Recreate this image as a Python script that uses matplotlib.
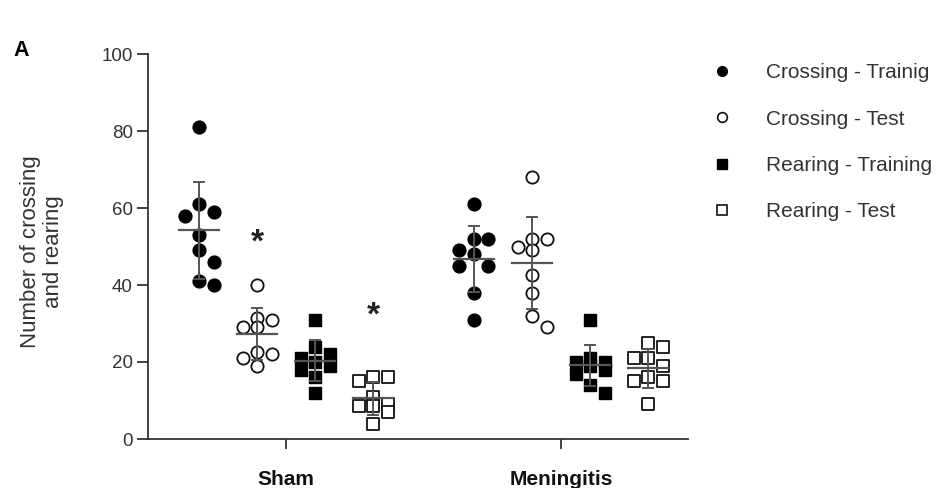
import numpy as np
import matplotlib
matplotlib.use("Agg")
import matplotlib.pyplot as plt
from matplotlib.lines import Line2D

plt.rcParams['font.family'] = ['Liberation Sans', 'DejaVu Sans']

groups = ["Sham", "Meningitis"]
series_names = ["Crossing - Trainig", "Crossing - Test", "Rearing - Training", "Rearing - Test"]

sham_cross_train = [81, 61, 59, 58, 53, 49, 46, 41, 40]
sham_cross_test = [40, 31.5, 31, 29, 29, 22.5, 22, 21, 19]
sham_rear_train = [31, 24, 22, 21, 20, 19, 18, 16, 12]
sham_rear_test = [16, 16, 15, 11, 9, 8.5, 8.5, 7, 4]

men_cross_train = [61, 52, 52, 49, 48, 45, 45, 38, 31]
men_cross_test = [68, 52, 52, 50, 49, 42.5, 38, 32, 29]
men_rear_train = [31, 21, 20, 20, 19, 18, 17, 14, 12]
men_rear_test = [25, 24, 21, 21, 19, 16, 15, 15, 9]

data = [
    [sham_cross_train, sham_cross_test, sham_rear_train, sham_rear_test],
    [men_cross_train, men_cross_test, men_rear_train, men_rear_test],
]
star_series = [(0, 1, 51), (0, 3, 32)]  # (group, series, y of asterisk)

# styles
markers = ['o', 'o', 's', 's']
filled = [True, False, True, False]

W, H = 947, 488
fig = plt.figure(figsize=(W / 100, H / 100), dpi=100)
ax = fig.add_axes([148 / W, 1 - 439 / H, (688 - 148) / W, (439 - 54) / H])

px_per_x = 275.0
px_per_y = 3.85
col_step = 58 / px_per_x
x_left = -138 / px_per_x
x_right = 402 / px_per_x
ax.set_xlim(x_left, x_right)
ax.set_ylim(0, 100)

diam_px = 12.5
step_px = 14.5


def swarm(vals):
    order = np.argsort(vals)[::-1]
    placed = []
    offs = np.zeros(len(vals))
    cands = [0, 1, -1]
    for i in order:
        yv = vals[i] * px_per_y
        best, bestd = 0, -1
        for c in cands:
            xo = c * step_px
            d = min([np.hypot(xo - px, yv - py) for px, py in placed] + [1e9])
            if d >= diam_px:
                best = c
                break
            if d > bestd:
                best, bestd = c, d
        xo = best * step_px
        placed.append((xo, yv))
        offs[i] = xo / px_per_x
    return offs


for g, gdata in enumerate(data):
    for s, vals in enumerate(gdata):
        vals = np.asarray(vals, float)
        xc = g + (s - 1.5) * col_step
        offs = swarm(vals)
        if filled[s]:
            ax.scatter(xc + offs, vals, marker=markers[s], s=85 if markers[s] == 'o' else 80,
                       facecolor='black', edgecolor='black', linewidths=1.0, zorder=3)
        else:
            ax.scatter(xc + offs, vals, marker=markers[s], s=78 if markers[s] == 'o' else 72,
                       facecolor='white', edgecolor='#111111', linewidths=1.3, zorder=3)
        m = vals.mean()
        sd = vals.std(ddof=1)
        lc = '#555555'
        ax.plot([xc - 20 / px_per_x, xc + 20 / px_per_x], [m, m], color=lc, lw=1.6, zorder=4)
        ax.plot([xc, xc], [m - sd, m + sd], color=lc, lw=1.4, zorder=4)
        for yy in (m - sd, m + sd):
            ax.plot([xc - 5 / px_per_x, xc + 5 / px_per_x], [yy, yy], color=lc, lw=1.4, zorder=4)

for g, s, yv in star_series:
    xc = g + (s - 1.5) * col_step
    ax.text(xc, yv, '*', ha='center', va='center', fontsize=24, fontweight='bold', color='#222222')

for sp in ['top', 'right']:
    ax.spines[sp].set_visible(False)
for sp in ['left', 'bottom']:
    ax.spines[sp].set_color('#333333')
    ax.spines[sp].set_linewidth(1.3)

ax.set_yticks(np.arange(0, 101, 20))
ax.tick_params(axis='y', length=8, width=1.3, color='#333333', labelsize=13.5, pad=3, labelcolor='#333333')
ax.set_xticks([0, 1])
ax.set_xticklabels(groups, fontweight='bold', fontsize=15, color='#111111')
ax.tick_params(axis='x', length=7, width=1.3, color='#333333', pad=15)

fig.text(42 / W, 1 - 252 / H, "Number of crossing\nand rearing", rotation=90, ha='center', va='center',
         fontsize=16, color='#333333', multialignment='center', linespacing=1.1)
fig.text(13 / W, 1 - 51 / H, 'A', fontsize=15.5, fontweight='bold', ha='left', va='center')

handles = []
for s in range(4):
    if filled[s]:
        h = Line2D([], [], ls='none', marker=markers[s], markersize=7, markerfacecolor='black',
                   markeredgecolor='black')
    else:
        h = Line2D([], [], ls='none', marker=markers[s], markersize=7, markerfacecolor='white',
                   markeredgecolor='#111111', markeredgewidth=1.2)
    handles.append(h)
fig.legend(handles, series_names, loc='upper left', bbox_to_anchor=(703 / W, 1 - 53 / H), frameon=False,
           fontsize=15, labelspacing=1.31, handlelength=0.8, handletextpad=1.7, borderpad=0,
           labelcolor='#333333')

fig.savefig('out.png', dpi=100)
